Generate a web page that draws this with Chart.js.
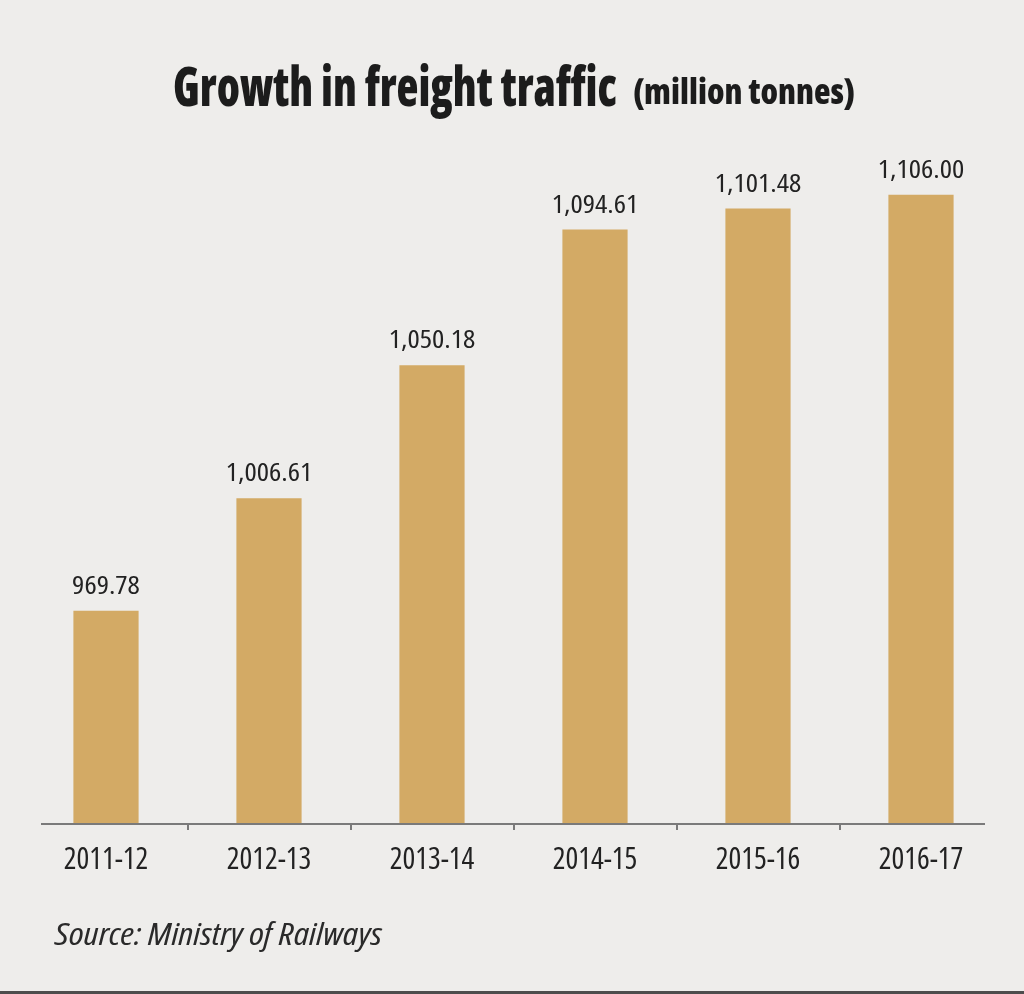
<!DOCTYPE html>
<html>
<head>
<meta charset="utf-8">
<script src="https://cdn.jsdelivr.net/npm/chart.js@4/dist/chart.umd.min.js"></script>
<style>
  html, body { margin: 0; padding: 0; }
  body { width: 1024px; height: 994px; background: #eeedeb; position: relative; overflow: hidden; }
  #wrap { position: absolute; left: 0; top: 0; width: 1024px; height: 994px; }
  .txt { position: absolute; white-space: nowrap; line-height: 1; transform-origin: 0 0; color: #1c1c1c; font-family: "Open Sans"; }
  #title { left: 173px; top: 57px; font-size: 55px; font-weight: 800; font-stretch: condensed; }
  #unit { left: 633px; top: 73px; font-size: 36px; font-weight: 800; font-stretch: condensed; }
  #source { left: 55px; top: 918px; font-size: 31px; font-style: italic; font-stretch: condensed; color: #2a2a2a; }
  #rule { position: absolute; left: 0; top: 991px; width: 1024px; height: 3px; background: #4d4d4d; }
</style>
</head>
<body>
<div id="wrap"><canvas id="chart"></canvas></div>
<div class="txt" id="title" data-w="444">Growth in freight traffic</div>
<div class="txt" id="unit" data-w="222">(million tonnes)</div>
<div class="txt" id="source" data-w="327">Source: Ministry of Railways</div>
<div id="rule"></div>
<script>
const years = ['2011-12', '2012-13', '2013-14', '2014-15', '2015-16', '2016-17'];
const freight = [969.78, 1006.61, 1050.18, 1094.61, 1101.48, 1106.00];

// squeeze the heading texts to the condensed widths of the original
document.querySelectorAll('.txt').forEach(function (el) {
    let w = el.getBoundingClientRect().width;
    el.style.transform = 'scaleX(' + (parseFloat(el.dataset.w) / w) + ')';
});

const valueLabels = {
    id: 'valueLabels',
    afterDatasetsDraw(chart) {
        let ctx = chart.ctx;
        let meta = chart.getDatasetMeta(0);
        meta.data.forEach(function (bar, i) {
            let v = freight[i].toLocaleString('en-US', {minimumFractionDigits: 2, maximumFractionDigits: 2});
            ctx.save();
            ctx.font = 'condensed 26px "Open Sans"';
            ctx.fillStyle = '#222';
            ctx.textAlign = 'center';
            ctx.textBaseline = 'alphabetic';
            ctx.translate(bar.x, bar.y - 17);
            ctx.scale(1.11, 1);
            ctx.fillText(v, 0, 0);
            ctx.restore();
        });
    }
};

const baseLine = {
    id: 'baseLine',
    afterDraw(chart) {
        let ctx = chart.ctx;
        let a = chart.chartArea;
        let y = chart.scales.y.getPixelForValue(900);
        ctx.save();
        ctx.strokeStyle = '#7a7a7a';
        ctx.lineWidth = 2;
        ctx.beginPath();
        ctx.moveTo(a.left + 16.5, y);
        ctx.lineTo(a.right - 17.5, y);
        ctx.stroke();
        ctx.restore();
    }
};

new Chart(document.getElementById('chart'), {
    type: 'bar',
    data: {
        labels: years,
        datasets: [{
            label: 'Freight traffic',
            data: freight,
            backgroundColor: '#d3aa65',
            borderWidth: 0,
            categoryPercentage: 1,
            barPercentage: 0.4
        }]
    },
    options: {
        responsive: true,
        maintainAspectRatio: false,
        animation: false,
        layout: {
            padding: {top: 152, left: 24.5, right: 21.5, bottom: 0}
        },
        plugins: {
            legend: {display: false},
            tooltip: {enabled: false}
        },
        scales: {
            x: {
                afterFit: function (scale) { scale.height = 170; },
                border: {display: false},
                grid: {
                    offset: true,
                    drawOnChartArea: false,
                    drawTicks: true,
                    tickLength: 6,
                    lineWidth: 2,
                    color: (c) => (c.index === undefined || c.index === 0 || c.index >= years.length) ? 'rgba(0,0,0,0)' : '#7a7a7a'
                },
                ticks: {
                    padding: 12,
                    color: '#222',
                    // weight slot carries the stretch keyword into the canvas font string
                    font: {family: '"Open Sans"', size: 30, weight: 'condensed'}
                }
            },
            y: {
                display: false,
                min: 900,
                max: 1120
            }
        }
    },
    plugins: [valueLabels, baseLine]
});
</script>
</body>
</html>
